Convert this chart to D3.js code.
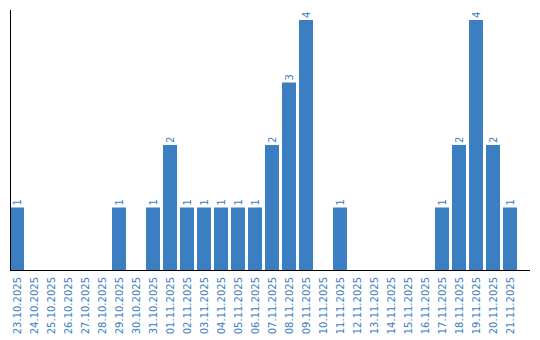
<!DOCTYPE html>
<html><head><meta charset="utf-8">
<script src="https://cdn.jsdelivr.net/npm/d3@7"></script>
<style>body{margin:0;background:#fff}</style>
</head><body>
<script>
const categories = ["23.10.2025","24.10.2025","25.10.2025","26.10.2025","27.10.2025","28.10.2025","29.10.2025","30.10.2025","31.10.2025","01.11.2025","02.11.2025","03.11.2025","04.11.2025","05.11.2025","06.11.2025","07.11.2025","08.11.2025","09.11.2025","10.11.2025","11.11.2025","12.11.2025","13.11.2025","14.11.2025","15.11.2025","16.11.2025","17.11.2025","18.11.2025","19.11.2025","20.11.2025","21.11.2025"];
const values = [1,0,0,0,0,0,1,0,1,2,1,1,1,1,1,2,3,4,0,1,0,0,0,0,0,1,2,4,2,1];

const W = 540, H = 340;
const color = "#3b7ec2";
const svg = d3.select("body").append("svg").attr("width", W).attr("height", H);

const x = d3.scaleBand().domain(categories).range([10, 517]).paddingInner(3/17).paddingOuter(0);
const y = d3.scaleLinear().domain([0, 4]).range([270, 20]);

svg.selectAll("rect.bar").data(categories.map((c,i)=>({c, v: values[i]})).filter(d=>d.v>0))
  .join("rect").attr("class","bar")
  .attr("x", d=>x(d.c)).attr("width", x.bandwidth())
  .attr("y", d=>y(d.v)).attr("height", d=>y(0)-y(d.v))
  .attr("fill", color);

svg.selectAll("text.val").data(categories.map((c,i)=>({c, v: values[i]})).filter(d=>d.v>0))
  .join("text").attr("class","val")
  .attr("transform", d=>`translate(${x(d.c)+x.bandwidth()/2+3.5},${y(d.v)-2}) rotate(-90)`)
  .attr("font-family","DejaVu Sans").attr("font-size",10).attr("fill",color)
  .text(d=>d.v);

// axes lines
svg.append("line").attr("x1",10.5).attr("x2",10.5).attr("y1",10).attr("y2",270.5).attr("stroke","#000");
svg.append("line").attr("x1",10).attr("x2",530).attr("y1",270.5).attr("y2",270.5).attr("stroke","#000");

svg.selectAll("text.cat").data(categories).join("text").attr("class","cat")
  .attr("transform", d=>`translate(${x(d)+x.bandwidth()/2+3.5},${277}) rotate(-90)`)
  .attr("text-anchor","end")
  .attr("font-family","DejaVu Sans").attr("font-size",10).attr("fill",color)
  .text(d=>d);
</script>
</body></html>
